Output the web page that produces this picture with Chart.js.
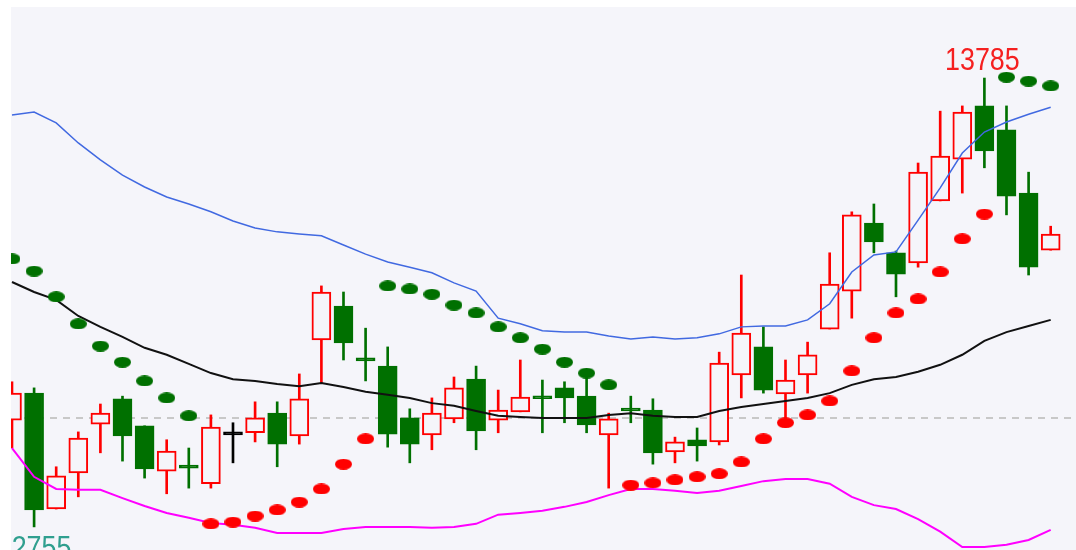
<!DOCTYPE html>
<html>
<head>
<meta charset="utf-8">
<script src="https://cdn.jsdelivr.net/npm/chart.js@4.4.1/dist/chart.umd.min.js"></script>
<style>
  html, body { margin: 0; padding: 0; background: #fff; }
  #wrap { width: 1076px; height: 550px; }
</style>
</head>
<body>
<div id="wrap"><canvas id="chart" width="1076" height="550"></canvas></div>
<script>
// candles, oldest first
const OPEN = [13000, 13062, 12796, 12879, 12991, 13049, 12987, 12883, 12895, 12854,
  12966, 12971, 13016, 12964, 13184, 13262, 13140, 13124, 13005, 12966,
  13003, 13094, 13000, 13019, 13053, 13074, 13055, 12966, 13026, 13023,
  12927, 12955, 12950, 13104, 13168, 13060, 13104, 13209, 13296, 13452,
  13384, 13361, 13503, 13599, 13721, 13666, 13521, 13390];
const HIGH = [13088, 13074, 12893, 12973, 13037, 13055, 12987, 12955, 12936, 13012,
  12994, 13042, 13042, 13106, 13308, 13294, 13211, 13168, 13026, 13051,
  13099, 13124, 13069, 13138, 13092, 13088, 13115, 13016, 13055, 13049,
  12961, 12982, 13156, 13333, 13214, 13138, 13179, 13384, 13478, 13496,
  13388, 13590, 13709, 13721, 13785, 13721, 13569, 13445];
const LOW = [12936, 12755, 12796, 12824, 12925, 12906, 12867, 12831, 12844, 12844,
  12902, 12950, 12893, 12945, 13085, 13138, 13090, 12938, 12902, 12932,
  12994, 12932, 12971, 13019, 12971, 12994, 12971, 12844, 12994, 12899,
  12902, 12906, 12943, 13051, 13062, 12984, 13062, 13209, 13234, 13384,
  13283, 13351, 13503, 13521, 13579, 13471, 13333, 13390];
const CLOSE = [13062, 12794, 12872, 12959, 13016, 12964, 12888, 12929, 12890, 12984,
  12966, 13005, 12945, 13049, 13294, 13177, 13136, 12968, 12945, 13016,
  13074, 12975, 13023, 13053, 13049, 13051, 12989, 13003, 13021, 12925,
  12950, 12941, 13131, 13200, 13069, 13092, 13150, 13312, 13471, 13409,
  13335, 13569, 13606, 13707, 13618, 13514, 13351, 13427];

// parabolic SAR
const SAR = [13370, 13342, 13283, 13221, 13170, 13133, 13090, 13051, 13010, 12762,
  12766, 12780, 12794, 12812, 12842, 12899, 12957, 13308, 13301, 13289,
  13264, 13246, 13214, 13189, 13163, 13133, 13108, 13081, 12851, 12856,
  12863, 12870, 12877, 12904, 12957, 12994, 13012, 13044, 13113, 13189,
  13246, 13278, 13340, 13416, 13473, 13787, 13778, 13767];

// Bollinger bands
const BB_UPPER = [13700, 13707, 13682, 13636, 13597, 13562, 13535, 13512, 13496, 13478,
  13457, 13441, 13432, 13427, 13423, 13402, 13381, 13363, 13351, 13338,
  13315, 13296, 13234, 13221, 13205, 13202, 13202, 13193, 13186, 13191,
  13186, 13189, 13198, 13214, 13216, 13216, 13230, 13267, 13340, 13379,
  13386, 13459, 13533, 13613, 13661, 13684, 13702, 13718];
const BB_MID = [13317, 13294, 13276, 13239, 13214, 13191, 13166, 13150, 13129, 13108,
  13094, 13090, 13083, 13078, 13085, 13076, 13065, 13058, 13051, 13039,
  13033, 13021, 13010, 13007, 13005, 13005, 13005, 13012, 13016, 13010,
  13007, 13007, 13021, 13030, 13037, 13044, 13051, 13062, 13081, 13094,
  13099, 13111, 13127, 13150, 13182, 13202, 13216, 13230];
const BB_LOWER = [12936, 12870, 12842, 12840, 12840, 12821, 12803, 12787, 12776, 12764,
  12760, 12753, 12741, 12741, 12741, 12750, 12755, 12755, 12755, 12753,
  12755, 12762, 12783, 12787, 12792, 12801, 12812, 12828, 12842, 12842,
  12838, 12833, 12838, 12849, 12860, 12865, 12865, 12854, 12824, 12805,
  12796, 12773, 12744, 12709, 12709, 12714, 12725, 12748];

const REF_LEVEL = 13005;

const BG = "#f5f5fa";
const UP = "#ff0000";
const DOWN = "#007000";
const FLAT = "#000000";

const idx = OPEN.map((_, i) => i);
const colors = idx.map((i) => CLOSE[i] > OPEN[i] ? UP : (CLOSE[i] < OPEN[i] ? DOWN : FLAT));

function dot(color) {
  const c = document.createElement("canvas");
  c.width = 17;
  c.height = 11;
  const g = c.getContext("2d");
  g.fillStyle = color;
  g.beginPath();
  g.ellipse(8.5, 5.5, 8.5, 5.5, 0, 0, Math.PI * 2);
  g.fill();
  return c;
}
const DOT_GREEN = dot(DOWN);
const DOT_RED = dot(UP);

const background = {
  id: "background",
  beforeDraw(chart) {
    const { ctx, chartArea: a } = chart;
    ctx.save();
    ctx.fillStyle = BG;
    ctx.fillRect(a.left, a.top, a.right - a.left, a.bottom - a.top);
    ctx.restore();
  }
};

const refLine = {
  id: "refLine",
  beforeDatasetsDraw(chart) {
    const { ctx, chartArea: a, scales: { y } } = chart;
    const py = Math.round(y.getPixelForValue(REF_LEVEL));
    ctx.save();
    ctx.strokeStyle = "#c8c8c8";
    ctx.lineWidth = 2;
    ctx.setLineDash([7, 6]);
    ctx.beginPath();
    ctx.moveTo(a.left, py);
    ctx.lineTo(a.right, py);
    ctx.stroke();
    ctx.restore();
  }
};

function label(ctx, text, cx, baseline, color) {
  ctx.save();
  ctx.translate(cx, baseline);
  ctx.scale(0.84, 1);
  ctx.fillStyle = color;
  ctx.fillText(text, 0, 0);
  ctx.restore();
}

const extremes = {
  id: "extremes",
  afterDatasetsDraw(chart) {
    const { ctx, chartArea: a, scales: { x, y } } = chart;
    const hi = Math.max(...HIGH);
    const lo = Math.min(...LOW);
    const hiI = HIGH.indexOf(hi);
    const loI = LOW.indexOf(lo);
    ctx.save();
    ctx.beginPath();
    ctx.rect(a.left, a.top, a.right - a.left, a.bottom - a.top);
    ctx.clip();
    ctx.font = "32px 'Liberation Sans', Arial, sans-serif";
    ctx.textAlign = "center";
    ctx.textBaseline = "alphabetic";
    label(ctx, String(hi), x.getPixelForValue(hiI) - 2, y.getPixelForValue(hi) - 8, "#f52020");
    label(ctx, String(lo), x.getPixelForValue(loI), y.getPixelForValue(lo) + 31, "#2f9f8f");
    ctx.restore();
  }
};

const xy = (arr) => idx.map((i) => ({ x: i, y: arr[i] }));

new Chart(document.getElementById("chart"), {
  type: "bar",
  data: {
    datasets: [
      {
        label: "wick",
        data: idx.map((i) => ({ x: i, y: [LOW[i], HIGH[i]] })),
        backgroundColor: colors,
        barThickness: 2,
        grouped: false,
        clip: 0,
        order: 5
      },
      {
        label: "body",
        data: idx.map((i) => ({ x: i, y: [OPEN[i], CLOSE[i]] })),
        backgroundColor: colors.map((c) => c === UP ? BG : c),
        borderColor: colors,
        borderWidth: 2,
        borderSkipped: false,
        barThickness: 19,
        minBarLength: 3,
        grouped: false,
        clip: 0,
        order: 4
      },
      {
        type: "line",
        label: "upper",
        data: xy(BB_UPPER),
        borderColor: "#4169e1",
        borderWidth: 1.5,
        pointRadius: 0,
        tension: 0,
        clip: 0,
        order: 3
      },
      {
        type: "line",
        label: "middle",
        data: xy(BB_MID),
        borderColor: "#111111",
        borderWidth: 2,
        pointRadius: 0,
        tension: 0,
        clip: 0,
        order: 3
      },
      {
        type: "line",
        label: "lower",
        data: xy(BB_LOWER),
        borderColor: "#ff00ff",
        borderWidth: 2,
        pointRadius: 0,
        tension: 0,
        clip: 0,
        order: 3
      },
      {
        type: "scatter",
        label: "sar",
        data: xy(SAR),
        pointStyle: idx.map((i) => SAR[i] > CLOSE[i] ? DOT_GREEN : DOT_RED),
        pointRadius: 6,
        clip: 0,
        order: 1
      }
    ]
  },
  options: {
    responsive: false,
    animation: false,
    layout: { autoPadding: false, padding: { left: 11, top: 7, right: 0, bottom: 0 } },
    plugins: {
      legend: { display: false },
      tooltip: { enabled: false }
    },
    scales: {
      x: { type: "linear", display: false, min: -0.045, max: 48.145, offset: false },
      y: { type: "linear", display: false, min: 12702, max: 13948 }
    }
  },
  plugins: [background, refLine, extremes]
});
</script>
</body>
</html>
